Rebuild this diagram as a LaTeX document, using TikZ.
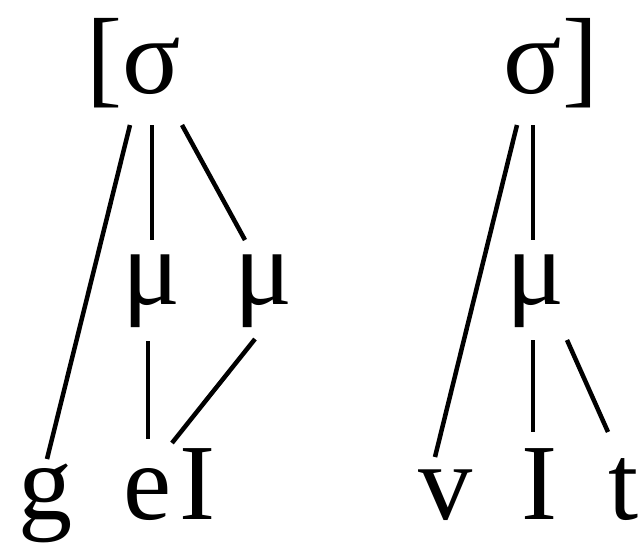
\documentclass[tikz,border=0pt]{standalone}
\usepackage{fontspec}
\setmainfont{Liberation Serif}
\usepackage{tikz}
\usetikzlibrary{positioning}
\tikzset{
  seg/.style={inner sep=0pt, anchor=base, font=\fontsize{77}{82}\selectfont},
  link/.style={line width=3.2pt, line cap=butt}
}

\begin{document}
\begin{tikzpicture}[x=0.025cm, y=-0.025cm]
  \useasboundingbox[fill=white] (0,0) rectangle (640,548);
  % syllables
  \node[seg] (syl1) at (152,93) {\llap{[}σ};
  \node[seg] (syl2) at (533,93) {σ\rlap{]}};
  % moras
  \node[seg] (mora1) at (152,304) {μ};
  \node[seg] (mora2) at (264,304) {μ};
  \node[seg] (mora3) at (536,304) {μ};
  % segments
  \node[seg] (g) at (46,519) {g};
  \node[seg] (e) at (148,519) {e};
  \node[seg] (iota1) at (198,519) {I};
  \node[seg] (v) at (446,519) {v};
  \node[seg] (iota2) at (540,519) {I};
  \node[seg] (t) at (624,519) {t};
  % first syllable
  \draw[link] ([shift={(-22,32)}]syl1.base) -- ([shift={(1,-60)}]g.base);
  \draw[link] ([shift={(0,32)}]syl1.base) -- ([shift={(0,-64)}]mora1.base);
  \draw[link] ([shift={(30,32)}]syl1.base) -- ([shift={(-19,-64)}]mora2.base);
  \draw[link] ([shift={(-4,37)}]mora1.base) -- ([shift={(0,-80)}]e.base);
  \draw[link] ([shift={(-9,35)}]mora2.base) -- ([shift={(-26,-76)}]iota1.base);
  % second syllable
  \draw[link] ([shift={(-16,32)}]syl2.base) -- ([shift={(-11,-62)}]v.base);
  \draw[link] ([shift={(0,32)}]syl2.base) -- ([shift={(-3,-64)}]mora3.base);
  \draw[link] ([shift={(-3,36)}]mora3.base) -- ([shift={(-7,-87)}]iota2.base);
  \draw[link] ([shift={(31,36)}]mora3.base) -- ([shift={(-16,-87)}]t.base);
\end{tikzpicture}
\end{document}
